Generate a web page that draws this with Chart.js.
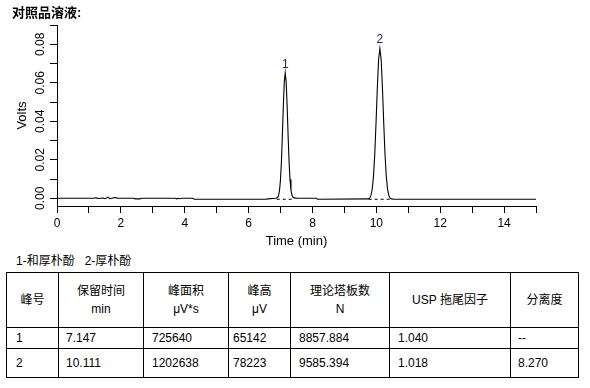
<!DOCTYPE html>
<html>
<head>
<meta charset="utf-8">
<script src="https://cdn.jsdelivr.net/npm/chart.js@4/dist/chart.umd.min.js"></script>
<style>
  html, body { margin:0; padding:0; background:#fff; }
  body { width:590px; height:388px; position:relative; overflow:hidden;
         font-family:"Liberation Sans", Arial, "Noto Sans CJK SC", sans-serif; color:#000; }
  #title { position:absolute; left:12px; top:4px; font-size:13px; font-weight:bold; line-height:18px; }
  #chartWrap { position:absolute; left:0; top:0; width:590px; height:250px; }
  #legendText { position:absolute; left:16px; top:252px; font-size:12px; line-height:18px; white-space:pre; }
  table { position:absolute; left:6px; top:272px; border-collapse:collapse; table-layout:fixed; width:573px; font-size:12px; }
  td { border:1px solid #000; padding:0; vertical-align:middle; white-space:nowrap; }
  tr.head td { height:54px; text-align:center; line-height:18px; }
  tr.r1 td { height:20px; }
  tr.r2 td { height:28px; }
  tr.r1 td:nth-child(1), tr.r2 td:nth-child(1) { padding-left:9px; }
  tr.r1 td:nth-child(2), tr.r2 td:nth-child(2) { padding-left:7px; }
  tr.r1 td:nth-child(3), tr.r2 td:nth-child(3) { padding-left:8px; }
  tr.r1 td:nth-child(4), tr.r2 td:nth-child(4) { padding-left:4px; }
  tr.r1 td:nth-child(5), tr.r2 td:nth-child(5) { padding-left:8px; }
  tr.r1 td:nth-child(6), tr.r2 td:nth-child(6) { padding-left:8px; }
  tr.r1 td:nth-child(7), tr.r2 td:nth-child(7) { padding-left:7px; }
</style>
</head>
<body>
<div id="chartWrap"><canvas id="c" width="590" height="250"></canvas></div>
<div id="title">对照品溶液:</div>
<div id="legendText"></div>
<table id="tbl">
  <colgroup>
    <col style="width:52px"><col style="width:85px"><col style="width:85px"><col style="width:62px">
    <col style="width:99px"><col style="width:121px"><col style="width:68px">
  </colgroup>
  <tbody id="tb"></tbody>
</table>
<script>
// ---------- DATA ----------
const traceTime = [
  0, 1.15, 1.2, 1.25, 1.3, 1.35, 1.45, 1.5, 1.55, 1.6, 1.65, 1.7, 1.75, 1.8, 1.85, 1.9, 2.0,
  2.4, 2.45, 2.6, 2.65, 3.7, 3.75, 3.8, 3.85, 3.9, 4.25, 4.3, 6.55, 6.6, 6.85,
  6.907, 6.937, 6.967, 6.997, 7.027, 7.057, 7.087, 7.117, 7.147, 7.177, 7.207, 7.237, 7.267,
  7.297, 7.327, 7.357, 7.387, 7.42, 7.5, 8.13, 8.15,
  9.751, 9.791, 9.831, 9.871, 9.911, 9.951, 9.991, 10.031, 10.071, 10.111, 10.151, 10.191,
  10.231, 10.271, 10.311, 10.351, 10.391, 10.431, 10.471, 10.55, 15
];
const traceVolts = [
  0, 0, 0.0003, 0.0001, -0.0001, 0, 0.0001, -0.0002, 0.0001, 0.0006, -0.0002, -0.0001, 0.0002, 0.0004, 0.0003, 0.0001, 0,
  0, -0.0003, -0.0003, 0, 0, -0.0003, 0, -0.0002, 0, 0, -0.0005, -0.0005, -0.0003, 0,
  0.0004, 0.0014, 0.0039, 0.0093, 0.0187, 0.0323, 0.0477, 0.0602, 0.0651, 0.0603, 0.0479, 0.0326, 0.0191,
  0.0097, 0.0042, 0.0017, 0.0006, 0.0002, 0.0001, 0, -0.0005,
  -0.0003, 0.0001, 0.0015, 0.0047, 0.0115, 0.0230, 0.0393, 0.0574, 0.0721, 0.0778, 0.0721, 0.0575,
  0.0394, 0.0231, 0.0116, 0.0048, 0.0015, 0.0001, -0.0003, -0.0005, -0.0005
];
const baseline1Time = [6.88, 7.42];
const baseline1Volts = [-0.0005, -0.0005];
const baseline2Time = [9.76, 10.47];
const baseline2Volts = [-0.0005, -0.0005];

const peakNames = ['1', '2'];
const peakTimes = [7.147, 10.111];
const peakHeights = [0.0651, 0.0778];

const xTickValues = [0,1,2,3,4,5,6,7,8,9,10,11,12,13,14,15];
const xTickLabels = ['0','','2','','4','','6','','8','','10','','12','','14',''];
const yTickValues = [0,0.01,0.02,0.03,0.04,0.05,0.06,0.07,0.08,0.09];
const yTickLabels = ['0.00','','0.02','','0.04','','0.06','','0.08',''];

const legendLine = '1-和厚朴酚   2-厚朴酚';
const tableHeader = [['峰号'], ['保留时间','min'], ['峰面积','μV*s'], ['峰高','μV'], ['理论塔板数','N'], ['USP 拖尾因子'], ['分离度']];
const peakNo = ['1', '2'];
const retTime = ['7.147', '10.111'];
const peakArea = ['725640', '1202638'];
const peakHeightUV = ['65142', '78223'];
const plates = ['8857.884', '9585.394'];
const tailing = ['1.040', '1.018'];
const resolution = ['--', '8.270'];

// ---------- TEXT / TABLE ----------
document.getElementById('legendText').textContent = legendLine;
const tb = document.getElementById('tb');
let h = '<tr class="head">' + tableHeader.map(c => '<td>' + c.join('<br>') + '</td>').join('') + '</tr>';
for (let i = 0; i < peakNo.length; i++) {
  h += '<tr class="r' + (i+1) + '">' + [peakNo[i], retTime[i], peakArea[i], peakHeightUV[i], plates[i], tailing[i], resolution[i]]
       .map(c => '<td>' + c + '</td>').join('') + '</tr>';
}
tb.innerHTML = h;

// ---------- CHART ----------
const FAM = '"Liberation Sans", Arial, sans-serif';
const toXY = (t, v) => t.map((x, i) => ({x: x, y: v[i]}));

const peakLabelPlugin = {
  id: 'peakLabels',
  afterDatasetsDraw(chart) {
    const {ctx, scales: {x, y}} = chart;
    ctx.save();
    ctx.font = '12px ' + FAM;
    ctx.fillStyle = '#2b2170';
    ctx.textAlign = 'center';
    ctx.textBaseline = 'alphabetic';
    peakNames.forEach((n, i) => {
      ctx.fillText(n, x.getPixelForValue(peakTimes[i]), y.getPixelForValue(peakHeights[i]) - 5);
    });
    ctx.restore();
  }
};

new Chart(document.getElementById('c'), {
  type: 'line',
  data: {
    datasets: [
      { data: toXY(traceTime, traceVolts), borderColor: '#000', borderWidth: 1.1, pointRadius: 0, tension: 0, fill: false },
      { data: toXY(baseline1Time, baseline1Volts), borderColor: '#000', borderWidth: 1, borderDash: [3, 3], pointRadius: 0, fill: false },
      { data: toXY(baseline2Time, baseline2Volts), borderColor: '#000', borderWidth: 1, borderDash: [3, 3], pointRadius: 0, fill: false }
    ]
  },
  options: {
    responsive: false,
    animation: false,
    devicePixelRatio: 1,
    layout: { padding: { top: 25, right: 54, left: 0, bottom: 0 } },
    plugins: { legend: { display: false }, tooltip: { enabled: false } },
    scales: {
      x: {
        type: 'linear', min: 0, max: 15,
        afterBuildTicks: s => { s.ticks = xTickValues.map(v => ({value: v})); },
        afterFit: s => { s.height = 44; },
        grid: { drawOnChartArea: false, drawTicks: true, tickLength: 7, tickColor: '#000', lineWidth: 1 },
        border: { display: true, color: '#000', width: 1 },
        ticks: { autoSkip: false, maxRotation: 0, minRotation: 0, padding: 3, color: '#000',
                 font: { size: 12, family: FAM }, callback: (v, i) => xTickLabels[i] },
        title: { display: true, text: 'Time (min)', color: '#000', font: { size: 13, family: FAM }, padding: { top: 0, bottom: 1 } }
      },
      y: {
        type: 'linear', min: -0.004, max: 0.09,
        afterBuildTicks: s => { s.ticks = yTickValues.map(v => ({value: v})); },
        afterFit: s => { s.width = 57; },
        grid: { drawOnChartArea: false, drawTicks: true, tickLength: 7, tickColor: '#000', lineWidth: 1 },
        border: { display: true, color: '#000', width: 1 },
        ticks: { autoSkip: false, minRotation: 90, maxRotation: 90, crossAlign: 'center', padding: -2, color: '#000',
                 font: { size: 12, family: FAM }, callback: (v, i) => yTickLabels[i] },
        title: { display: true, text: 'Volts', color: '#000', font: { size: 13, family: FAM }, padding: { top: 15, bottom: 0 } }
      }
    }
  },
  plugins: [peakLabelPlugin]
});
</script>
</body>
</html>
